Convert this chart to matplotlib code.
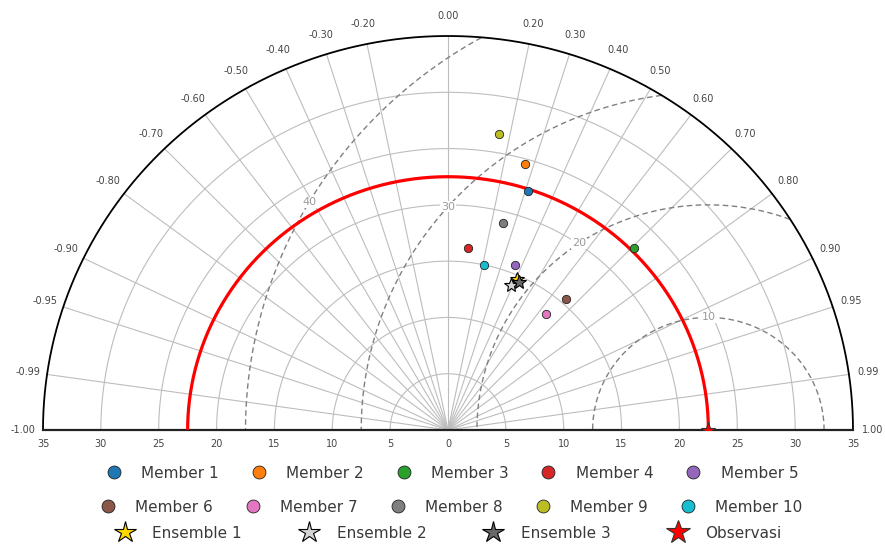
import numpy as np
import matplotlib
matplotlib.use("Agg")
import matplotlib.pyplot as plt

# ---- data -------------------------------------------------------------
member_names = ["Member 1", "Member 2", "Member 3", "Member 4", "Member 5",
                "Member 6", "Member 7", "Member 8", "Member 9", "Member 10"]
member_std = [22.3, 24.5, 22.85, 16.3, 15.8, 15.5, 13.3, 19.0, 26.7, 15.0]
member_corr = [0.31, 0.27, 0.705, 0.108, 0.367, 0.658, 0.636, 0.251, 0.166, 0.209]
member_colors = ["#1f77b4", "#ff7f0e", "#2ca02c", "#d62728", "#9467bd",
                 "#8c564b", "#e377c2", "#7f7f7f", "#bcbd22", "#17becf"]

ens_names = ["Ensemble 1", "Ensemble 2", "Ensemble 3"]
ens_std = [14.65, 14.0, 14.5]
ens_corr = [0.408, 0.388, 0.424]
ens_colors = ["#FFD700", "#D3D3D3", "#696969"]

obs_name = "Observasi"
obs_std = 22.5

std_ticks = [5, 10, 15, 20, 25, 30, 35]
axis_tick_labels = [35, 30, 25, 20, 15, 10, 5, 0, 5, 10, 15, 20, 25, 30, 35]
corr_ticks = [-1.0, -0.99, -0.95, -0.9, -0.8, -0.7, -0.6, -0.5, -0.4, -0.3, -0.2,
              0.0, 0.2, 0.3, 0.4, 0.5, 0.6, 0.7, 0.8, 0.9, 0.95, 0.99, 1.0]
rms_levels = [10, 20, 30, 40]
rms_label_angles = [90, 124, 138.6, 149.6]   # degrees, around the observation point

R_MAX = 35.0


def to_xy(std, corr):
    std = np.asarray(std, dtype=float)
    corr = np.asarray(corr, dtype=float)
    return std * corr, std * np.sqrt(1 - corr ** 2)


fig = plt.figure(figsize=(8.85, 5.45), dpi=100)
ax = fig.add_axes([43 / 885, 115 / 545, 810 / 885, 394 / 545])
ax.set_xlim(-R_MAX, R_MAX)
ax.set_ylim(0, R_MAX)
ax.axis("off")

grid_col = "#bdbdbd"
label_col = "#444444"

# standard deviation arcs
t = np.linspace(0, np.pi, 400)
for r in std_ticks[:-1]:
    ax.plot(r * np.cos(t), r * np.sin(t), color=grid_col, lw=0.8, zorder=1)

# correlation rays and labels
for c in corr_ticks:
    th = np.arccos(c)
    if abs(c) < 1:
        ax.plot([0, R_MAX * np.cos(th)], [0, R_MAX * np.sin(th)],
                color=grid_col, lw=0.8, zorder=1)
    ax.text(36.7 * np.cos(th), 36.8 * np.sin(th), f"{c:.2f}",
            ha="center", va="center", fontsize=7, color=label_col, clip_on=False)

# centred RMS difference contours
for lev, ang in zip(rms_levels, rms_label_angles):
    phi = np.linspace(0, np.pi, 800)
    xs = obs_std + lev * np.cos(phi)
    ys = lev * np.sin(phi)
    xs = np.where(xs ** 2 + ys ** 2 <= R_MAX ** 2, xs, np.nan)
    ax.plot(xs, ys, color="#808080", lw=1.0, ls=(0, (4, 2.5)), zorder=2)
    a = np.deg2rad(ang)
    ax.text(obs_std + lev * np.cos(a), lev * np.sin(a), str(lev),
            ha="center", va="center", fontsize=8, color="#9a9a9a", zorder=3,
            bbox=dict(boxstyle="square,pad=0.05", fc="white", ec="none"))

# outer frame and baseline
ax.plot(R_MAX * np.cos(t), R_MAX * np.sin(t), color="black", lw=1.3,
        zorder=4, clip_on=False)
ax.plot([-R_MAX, R_MAX], [0, 0], color="#222222", lw=1.6, zorder=4, clip_on=False)

# x-axis labels
for v, lab in zip(np.linspace(-R_MAX, R_MAX, len(axis_tick_labels)), axis_tick_labels):
    ax.text(v, -1.25, str(lab), ha="center", va="center", fontsize=7,
            color=label_col, clip_on=False)

# reference standard deviation
ax.plot(obs_std * np.cos(t), obs_std * np.sin(t), color="red", lw=2.3, zorder=5)

# members
member_handles = []
for name, s, c, col in zip(member_names, member_std, member_corr, member_colors):
    x, y = to_xy(s, c)
    h, = ax.plot(x, y, "o", ms=6, mfc=col, mec="#222222", mew=0.6, zorder=6, label=name)
    member_handles.append(h)

# ensembles and observation
ens_handles = []
for name, s, c, col in zip(ens_names, ens_std, ens_corr, ens_colors):
    x, y = to_xy(s, c)
    h, = ax.plot(x, y, "*", ms=10, mfc=col, mec="black", mew=0.8, zorder=7, label=name)
    ens_handles.append(h)
h_obs, = ax.plot(obs_std, 0, "*", ms=11, mfc="red", mec="#333333", mew=0.8,
                 zorder=8, label=obs_name)
ens_handles.append(h_obs)

leg_kw = dict(frameon=False, fontsize=11, handletextpad=0.8, borderpad=0,
              labelcolor="#3a3a3a")
fig.legend(handles=member_handles[:5], ncol=5, loc="center",
           bbox_to_anchor=(0.5 + 6 / 885, 1 - 473 / 545), columnspacing=1.6,
           markerscale=1.55, **leg_kw)
fig.legend(handles=member_handles[5:], ncol=5, loc="center",
           bbox_to_anchor=(0.5 + 5 / 885, 1 - 507 / 545), columnspacing=1.6,
           markerscale=1.55, **leg_kw)
fig.legend(handles=ens_handles, ncol=4, loc="center",
           bbox_to_anchor=(0.5 + 3 / 885, 1 - 533 / 545), columnspacing=3.4,
           markerscale=1.6, **leg_kw)

fig.savefig("out.png", dpi=100, facecolor="white")
